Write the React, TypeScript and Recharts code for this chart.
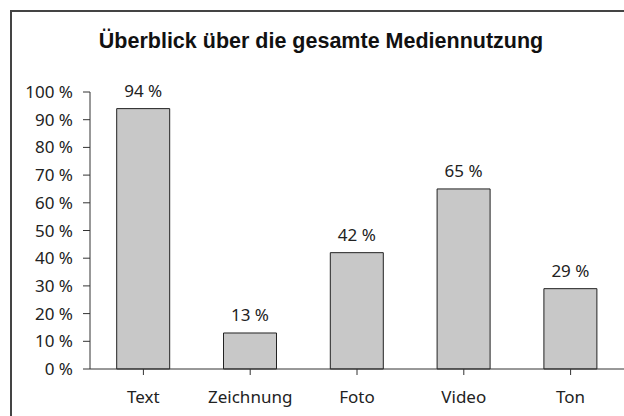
import React, { useEffect } from 'react';
import { BarChart, Bar, XAxis, YAxis, LabelList } from 'recharts';

const categories = ['Text', 'Zeichnung', 'Foto', 'Video', 'Ton'];
const shares = [94, 13, 42, 65, 29];
const yTicks = [0, 10, 20, 30, 40, 50, 60, 70, 80, 90, 100];

const data = categories.map((name, i) => ({ name, value: shares[i] }));

const labelFont = '"Noto Sans", "Open Sans", sans-serif';

export default function App() {
  // no scrollbars, the chart fills the window exactly
  useEffect(() => {
    document.documentElement.style.overflow = 'hidden';
    document.body.style.overflow = 'hidden';
  }, []);

  return (
    <div
      style={{
        position: 'fixed',
        left: 0,
        top: 0,
        width: 624,
        height: 416,
        overflow: 'hidden',
        background: '#fff',
      }}
    >
      <div
        style={{
          position: 'absolute',
          left: 10,
          top: 10,
          width: 614,
          height: 406,
          borderTop: '2px solid #444',
          borderLeft: '2px solid #444',
          boxSizing: 'border-box',
        }}
      />
      <div
        style={{
          position: 'absolute',
          left: 14,
          top: 28,
          width: 614,
          textAlign: 'center',
          fontFamily: '"Liberation Sans", Arial, sans-serif',
          fontWeight: 'bold',
          fontSize: 21.5,
          lineHeight: '26px',
          color: '#111',
        }}
      >
        Überblick über die gesamte Mediennutzung
      </div>
      <div style={{ position: 'absolute', left: 0, top: 0 }}>
        <BarChart
          width={624}
          height={416}
          data={data}
          margin={{ top: 92, right: 0, left: 0, bottom: 17 }}
          barCategoryGap="25%"
        >
          <XAxis
            dataKey="name"
            height={30}
            axisLine={{ stroke: '#333' }}
            tickLine={{ stroke: '#333' }}
            tickSize={6}
            tickMargin={16}
            interval={0}
            tick={{ fill: '#222', fontSize: 17, fontFamily: labelFont }}
          />
          <YAxis
            width={90}
            domain={[0, 100]}
            ticks={yTicks}
            interval={0}
            tickFormatter={(v: number) => `${v} %`}
            axisLine={{ stroke: '#333' }}
            tickLine={{ stroke: '#333' }}
            tickSize={7}
            tickMargin={10}
            tick={{ fill: '#222', fontSize: 17, fontFamily: labelFont }}
          />
          <Bar dataKey="value" fill="#c8c8c8" stroke="#222" strokeWidth={1} isAnimationActive={false}>
            <LabelList
              dataKey="value"
              position="top"
              offset={12}
              formatter={(v: number) => `${v} %`}
              style={{ fill: '#222', fontSize: 17, fontFamily: labelFont }}
            />
          </Bar>
        </BarChart>
      </div>
    </div>
  );
}
